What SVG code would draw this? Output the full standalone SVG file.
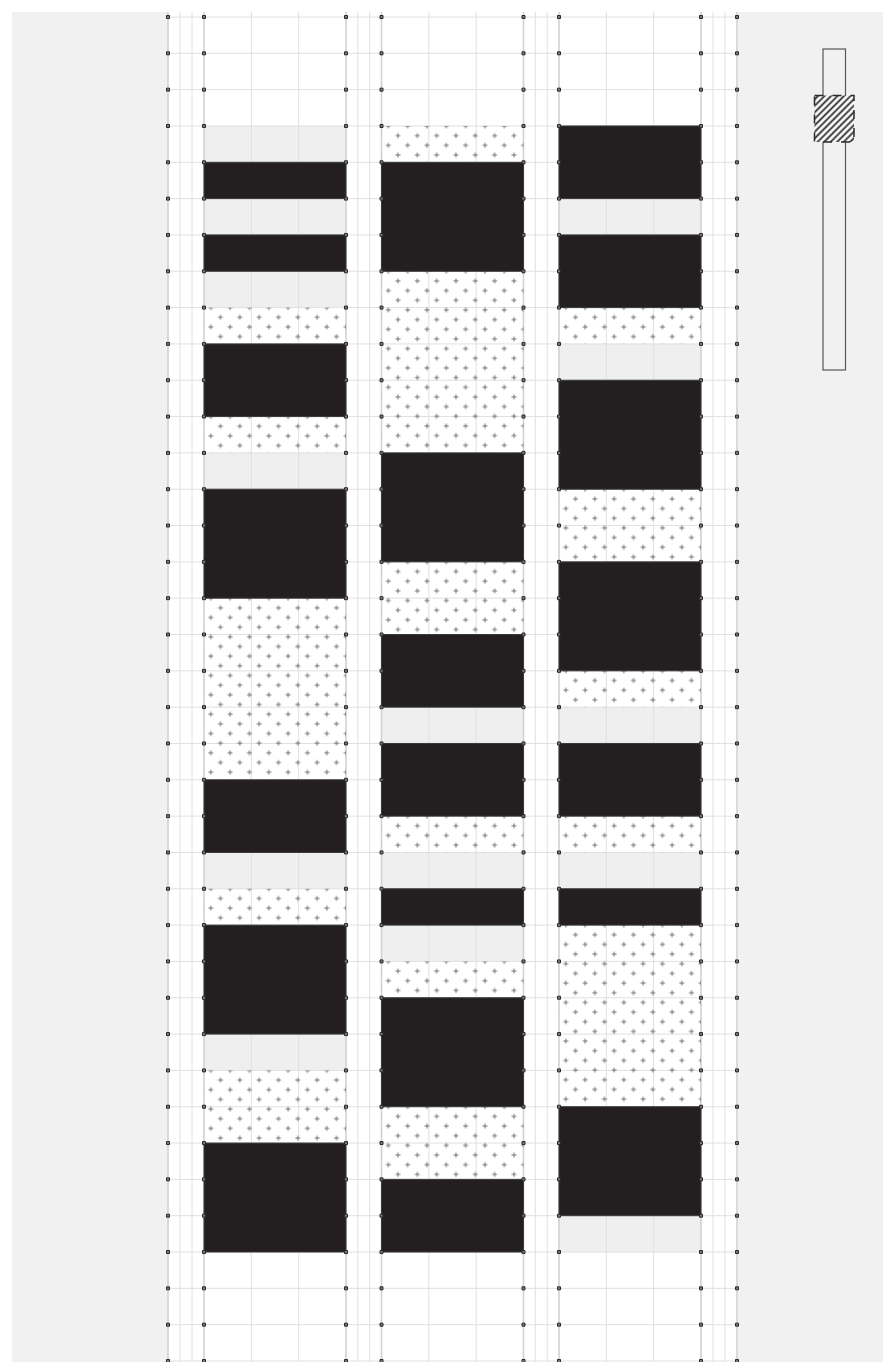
<svg xmlns="http://www.w3.org/2000/svg" xmlns:xlink="http://www.w3.org/1999/xlink" width="883" height="1362" viewBox="0 0 883 1362">
<style>
.g{fill:#efefef}
.b{fill:#231f20;stroke:#3a3a3a;stroke-width:1}
.p{fill:url(#plus)}
.gl{stroke:#e0e0e0;stroke-width:1;fill:none}
.ge{stroke:#d2d2d2;stroke-width:1.6;fill:none}
.dot{fill:#7a7a7a;stroke:#2a2a2a;stroke-width:1}
</style>
<defs>
<pattern id="plus" width="19.333" height="19.333" x="1.97" y="-4.83" patternUnits="userSpaceOnUse">
<path d="M2.33 4.83h5M4.83 2.33v5M12 14.5h5M14.5 12v5" stroke="#6e6e6e" stroke-width="1" fill="none"/>
</pattern>
<pattern id="hatch" width="4.6" height="4.6" patternUnits="userSpaceOnUse" patternTransform="rotate(45)">
<rect width="4.6" height="4.6" fill="#fff"/>
<line x1="2.3" y1="0" x2="2.3" y2="4.6" stroke="#2a2a2a" stroke-width="1.8"/>
</pattern>
<path id="dotcol" class="dot" d="M-1.5 15.5h3v3h-3zM-1.5 51.82h3v3h-3zM-1.5 88.15h3v3h-3zM-1.5 124.47h3v3h-3zM-1.5 160.8h3v3h-3zM-1.5 197.12h3v3h-3zM-1.5 233.44h3v3h-3zM-1.5 269.77h3v3h-3zM-1.5 306.09h3v3h-3zM-1.5 342.42h3v3h-3zM-1.5 378.74h3v3h-3zM-1.5 415.06h3v3h-3zM-1.5 451.39h3v3h-3zM-1.5 487.71h3v3h-3zM-1.5 524.04h3v3h-3zM-1.5 560.36h3v3h-3zM-1.5 596.68h3v3h-3zM-1.5 633.01h3v3h-3zM-1.5 669.33h3v3h-3zM-1.5 705.66h3v3h-3zM-1.5 741.98h3v3h-3zM-1.5 778.3h3v3h-3zM-1.5 814.63h3v3h-3zM-1.5 850.95h3v3h-3zM-1.5 887.28h3v3h-3zM-1.5 923.6h3v3h-3zM-1.5 959.92h3v3h-3zM-1.5 996.25h3v3h-3zM-1.5 1032.57h3v3h-3zM-1.5 1068.9h3v3h-3zM-1.5 1105.22h3v3h-3zM-1.5 1141.54h3v3h-3zM-1.5 1177.87h3v3h-3zM-1.5 1214.19h3v3h-3zM-1.5 1250.52h3v3h-3zM-1.5 1286.84h3v3h-3zM-1.5 1323.16h3v3h-3zM-1.5 1359.49h3v3h-3z"/>
</defs>
<rect width="883" height="1362" fill="#fff"/>
<rect x="12" y="12" width="871" height="1350" fill="#f1f1f1"/>
<rect x="168" y="12" width="570" height="1350" fill="#fff"/>

<g id="col1-gray">
<rect class="g" x="204" y="125.97" width="142" height="36.32"/>
<rect class="g" x="204" y="198.62" width="142" height="36.32"/>
<rect class="g" x="204" y="271.27" width="142" height="36.32"/>
<rect class="g" x="204" y="452.89" width="142" height="36.32"/>
<rect class="g" x="204" y="852.45" width="142" height="36.32"/>
<rect class="g" x="204" y="1034.07" width="142" height="36.32"/>
</g>
<g id="col2-gray">
<rect class="g" x="381.5" y="707.16" width="142" height="36.32"/>
<rect class="g" x="381.5" y="852.45" width="142" height="36.32"/>
<rect class="g" x="381.5" y="925.1" width="142" height="36.32"/>
</g>
<g id="col3-gray">
<rect class="g" x="559" y="198.62" width="142" height="36.32"/>
<rect class="g" x="559" y="343.92" width="142" height="36.32"/>
<rect class="g" x="559" y="707.16" width="142" height="36.32"/>
<rect class="g" x="559" y="852.45" width="142" height="36.32"/>
<rect class="g" x="559" y="1215.69" width="142" height="36.32"/>
</g>

<g id="connectors">
<path class="gl" d="M168 17H737M168 53.32H737M168 89.65H737M168 125.97H737M168 162.3H737M168 198.62H737M168 234.94H737M168 271.27H737M168 307.59H737M168 343.92H737M168 380.24H737M168 416.56H737M168 452.89H737M168 489.21H737M168 525.54H737M168 561.86H737M168 598.18H737M168 634.51H737M168 670.83H737M168 707.16H737M168 743.48H737M168 779.8H737M168 816.13H737M168 852.45H737M168 888.78H737M168 925.1H737M168 961.42H737M168 997.75H737M168 1034.07H737M168 1070.4H737M168 1106.72H737M168 1143.04H737M168 1179.37H737M168 1215.69H737M168 1252.02H737M168 1288.34H737M168 1324.66H737M168 1360.99H737"/>
<path class="gl" d="M180 12V1362M192 12V1362M251.33 12V1362M298.67 12V1362M357.8 12V1362M369.7 12V1362M428.83 12V1362M476.17 12V1362M535.3 12V1362M547.2 12V1362M606.33 12V1362M653.67 12V1362M713 12V1362M725 12V1362"/>
<path class="ge" d="M168 12V1362M204 12V1362M346 12V1362M381.5 12V1362M523.5 12V1362M559 12V1362M701 12V1362M737 12V1362"/>
</g>

<g id="col1">
<rect class="p" transform="translate(204,307.59)" width="142" height="36.32"/>
<rect class="p" transform="translate(204,416.56)" width="142" height="36.32"/>
<rect class="p" transform="translate(204,598.18)" width="142" height="181.62"/>
<rect class="p" transform="translate(204,888.78)" width="142" height="36.32"/>
<rect class="p" transform="translate(204,1070.4)" width="142" height="72.65"/>
<rect class="b" x="204" y="162.3" width="142" height="36.32"/>
<rect class="b" x="204" y="234.94" width="142" height="36.32"/>
<rect class="b" x="204" y="343.92" width="142" height="72.65"/>
<rect class="b" x="204" y="489.21" width="142" height="108.97"/>
<rect class="b" x="204" y="779.8" width="142" height="72.65"/>
<rect class="b" x="204" y="925.1" width="142" height="108.97"/>
<rect class="b" x="204" y="1143.04" width="142" height="108.97"/>
</g>

<g id="col2">
<rect class="p" transform="translate(381.5,125.97)" width="142" height="36.32"/>
<rect class="p" transform="translate(381.5,271.27)" width="142" height="181.62"/>
<rect class="p" transform="translate(381.5,561.86)" width="142" height="72.65"/>
<rect class="p" transform="translate(381.5,816.13)" width="142" height="36.32"/>
<rect class="p" transform="translate(381.5,961.42)" width="142" height="36.32"/>
<rect class="p" transform="translate(381.5,1106.72)" width="142" height="72.65"/>
<rect class="b" x="381.5" y="162.3" width="142" height="108.97"/>
<rect class="b" x="381.5" y="452.89" width="142" height="108.97"/>
<rect class="b" x="381.5" y="634.51" width="142" height="72.65"/>
<rect class="b" x="381.5" y="743.48" width="142" height="72.65"/>
<rect class="b" x="381.5" y="888.78" width="142" height="36.32"/>
<rect class="b" x="381.5" y="997.75" width="142" height="108.97"/>
<rect class="b" x="381.5" y="1179.37" width="142" height="72.65"/>
</g>

<g id="col3">
<rect class="p" transform="translate(559,307.59)" width="142" height="36.32"/>
<rect class="p" transform="translate(559,489.21)" width="142" height="72.65"/>
<rect class="p" transform="translate(559,670.83)" width="142" height="36.32"/>
<rect class="p" transform="translate(559,816.13)" width="142" height="36.32"/>
<rect class="p" transform="translate(559,925.1)" width="142" height="181.62"/>
<rect class="b" x="559" y="125.97" width="142" height="72.65"/>
<rect class="b" x="559" y="234.94" width="142" height="72.65"/>
<rect class="b" x="559" y="380.24" width="142" height="108.97"/>
<rect class="b" x="559" y="561.86" width="142" height="108.97"/>
<rect class="b" x="559" y="743.48" width="142" height="72.65"/>
<rect class="b" x="559" y="888.78" width="142" height="36.32"/>
<rect class="b" x="559" y="1106.72" width="142" height="108.97"/>
</g>

<g id="grid-points">
<use xlink:href="#dotcol" x="168"/>
<use xlink:href="#dotcol" x="204"/>
<use xlink:href="#dotcol" x="346"/>
<use xlink:href="#dotcol" x="381.5"/>
<use xlink:href="#dotcol" x="523.5"/>
<use xlink:href="#dotcol" x="559"/>
<use xlink:href="#dotcol" x="701"/>
<use xlink:href="#dotcol" x="737"/>
</g>

<g id="scrollbar">
<rect x="823" y="49" width="22.5" height="321" fill="none" stroke="#555" stroke-width="1.2"/>
<rect x="814.5" y="95.5" width="39.5" height="46.5" fill="url(#hatch)"/>
<rect x="814.5" y="95.5" width="39.5" height="46.5" fill="none" stroke="#2a2a2a" stroke-width="1.5" stroke-dasharray="9 9"/>
</g>
</svg>
